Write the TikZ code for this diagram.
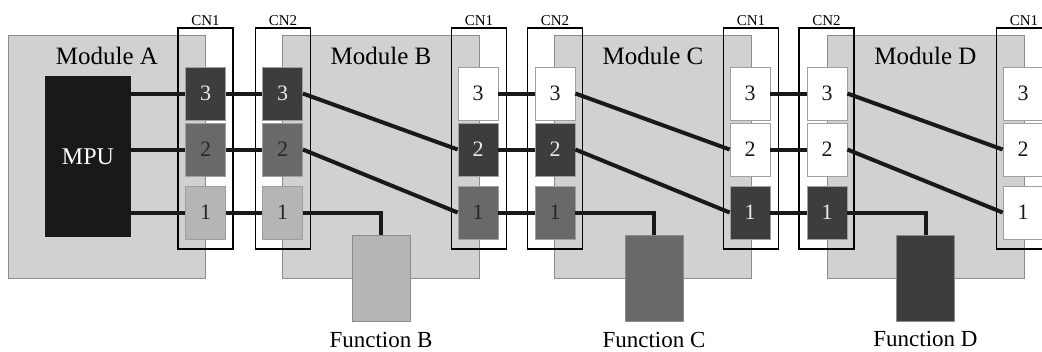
\documentclass[tikz,border=0pt]{standalone}
\usepackage{fontspec}
\setmainfont{Liberation Serif}
\usetikzlibrary{positioning}

\definecolor{modfill}{gray}{0.82}
\definecolor{edgegray}{gray}{0.55}
\definecolor{pindark}{gray}{0.24}
\definecolor{pinmid}{gray}{0.41}
\definecolor{pinlight}{gray}{0.71}
\definecolor{mpufill}{gray}{0.10}

\begin{document}
\begin{tikzpicture}[x=1pt, y=-1pt,
        module/.style={draw=edgegray, line width=0.9pt, fill=modfill,
            minimum width=197pt, minimum height=243pt, inner sep=0pt},
        modlabel/.style={anchor=base, inner sep=0pt, font=\fontsize{25}{28}\selectfont},
        cnbox/.style={draw=black, line width=1.4pt, minimum width=55pt,
            minimum height=221pt, inner sep=0pt},
        cnlabel/.style={inner sep=0pt, font=\fontsize{15}{17}\selectfont},
        contact/.style={draw=gray!75, line width=0.7pt, minimum width=40pt,
            minimum height=53pt, inner sep=0pt, font=\fontsize{22}{24}\selectfont},
        cdark/.style={contact, fill=pindark, text=white!92!black},
        cmid/.style={contact, fill=pinmid, text=black!85},
        clight/.style={contact, fill=pinlight, text=black!85},
        cwhite/.style={contact, fill=white, text=black!90},
        func/.style={draw=edgegray, line width=0.8pt, minimum width=58pt,
            minimum height=86pt, inner sep=0pt},
        funlabel/.style={inner sep=0pt, font=\fontsize{23}{26}\selectfont},
        wire/.style={line width=4pt, black!90}]
    \useasboundingbox (0,0) rectangle (1042,351);
    \clip (0,0) rectangle (1042,351);

    % modules
    \node[module] (modA) at (107,156.5) {};
    \node[module] (modB) at (381,156.5) {};
    \node[module] (modC) at (653,156.5) {};
    \node[module] (modD) at (925.5,156.5) {};
    \node[modlabel] (labA) at (107,64) {Module A};
    \node[modlabel] (labB) at (381,64) {Module B};
    \node[modlabel] (labC) at (653,64) {Module C};
    \node[modlabel] (labD) at (925.5,64) {Module D};

    \node[fill=mpufill, minimum width=86pt, minimum height=161pt, inner sep=0pt,
        text=white, font=\fontsize{24}{26}\selectfont] (mpu) at (88,156.5) {MPU};

    % connectors
    \node[cnbox] (cn1) at (205.5,138.5) {};
    \node[cnbox] (cn2) at (283,138.5) {};
    \node[cnbox] (cn3) at (479,138.5) {};
    \node[cnbox] (cn4) at (555,138.5) {};
    \node[cnbox] (cn5) at (751,138.5) {};
    \node[cnbox] (cn6) at (826.5,138.5) {};
    \node[cnbox] (cn7) at (1024,138.5) {};
    \node[cnlabel, above=1.5pt of cn1] (cnl1) {CN1};
    \node[cnlabel, above=1.5pt of cn2] (cnl2) {CN2};
    \node[cnlabel, above=1.5pt of cn3] (cnl3) {CN1};
    \node[cnlabel, above=1.5pt of cn4] (cnl4) {CN2};
    \node[cnlabel, above=1.5pt of cn5] (cnl5) {CN1};
    \node[cnlabel, above=1.5pt of cn6] (cnl6) {CN2};
    \node[cnlabel, above=1.5pt of cn7] (cnl7) {CN1};

    % contacts, pX3 on top, pX1 at the bottom
    \node[cdark] (p13) at (205.5,93.5) {3};
    \node[cmid] (p12) at (205.5,149.5) {2};
    \node[clight] (p11) at (205.5,212.5) {1};
    \node[cdark] (p23) at (282.5,93.5) {3};
    \node[cmid] (p22) at (282.5,149.5) {2};
    \node[clight] (p21) at (282.5,212.5) {1};

    \node[cwhite] (p33) at (478,93.5) {3};
    \node[cdark] (p32) at (478,149.5) {2};
    \node[cmid] (p31) at (478,212.5) {1};
    \node[cwhite] (p43) at (555,93.5) {3};
    \node[cdark] (p42) at (555,149.5) {2};
    \node[cmid] (p41) at (555,212.5) {1};

    \node[cwhite] (p53) at (750,93.5) {3};
    \node[cwhite] (p52) at (750,149.5) {2};
    \node[cdark] (p51) at (750,212.5) {1};
    \node[cwhite] (p63) at (827,93.5) {3};
    \node[cwhite] (p62) at (827,149.5) {2};
    \node[cdark] (p61) at (827,212.5) {1};

    \node[cwhite] (p73) at (1023,93.5) {3};
    \node[cwhite] (p72) at (1023,149.5) {2};
    \node[cwhite] (p71) at (1023,212.5) {1};

    % function blocks
    \node[func, fill=pinlight] (funB) at (381,278.5) {};
    \node[func, fill=pinmid] (funC) at (654,278.5) {};
    \node[func, fill=pindark] (funD) at (925.5,278) {};
    \node[funlabel, below=10pt of funB] (flB) {Function B};
    \node[funlabel, below=10pt of funC] (flC) {Function C};
    \node[funlabel, below=10pt of funD] (flD) {Function D};

    % wiring
    \draw[wire] (mpu.east |- p13) -- (p13.west);
    \draw[wire] (mpu.east |- p12) -- (p12.west);
    \draw[wire] (mpu.east |- p11) -- (p11.west);
    \draw[wire] (p13) -- (p23);
    \draw[wire] (p12) -- (p22);
    \draw[wire] (p11) -- (p21);

    \draw[wire] (p23.east) -- (p32.west);
    \draw[wire] (p22.east) -- (p31.west);
    \draw[wire] (p21.east) -| (funB.north);
    \draw[wire] (p33) -- (p43);
    \draw[wire] (p32) -- (p42);
    \draw[wire] (p31) -- (p41);

    \draw[wire] (p43.east) -- (p52.west);
    \draw[wire] (p42.east) -- (p51.west);
    \draw[wire] (p41.east) -| (funC.north);
    \draw[wire] (p53) -- (p63);
    \draw[wire] (p52) -- (p62);
    \draw[wire] (p51) -- (p61);

    \draw[wire] (p63.east) -- (p72.west);
    \draw[wire] (p62.east) -- (p71.west);
    \draw[wire] (p61.east) -| (funD.north);
\end{tikzpicture}
\end{document}
